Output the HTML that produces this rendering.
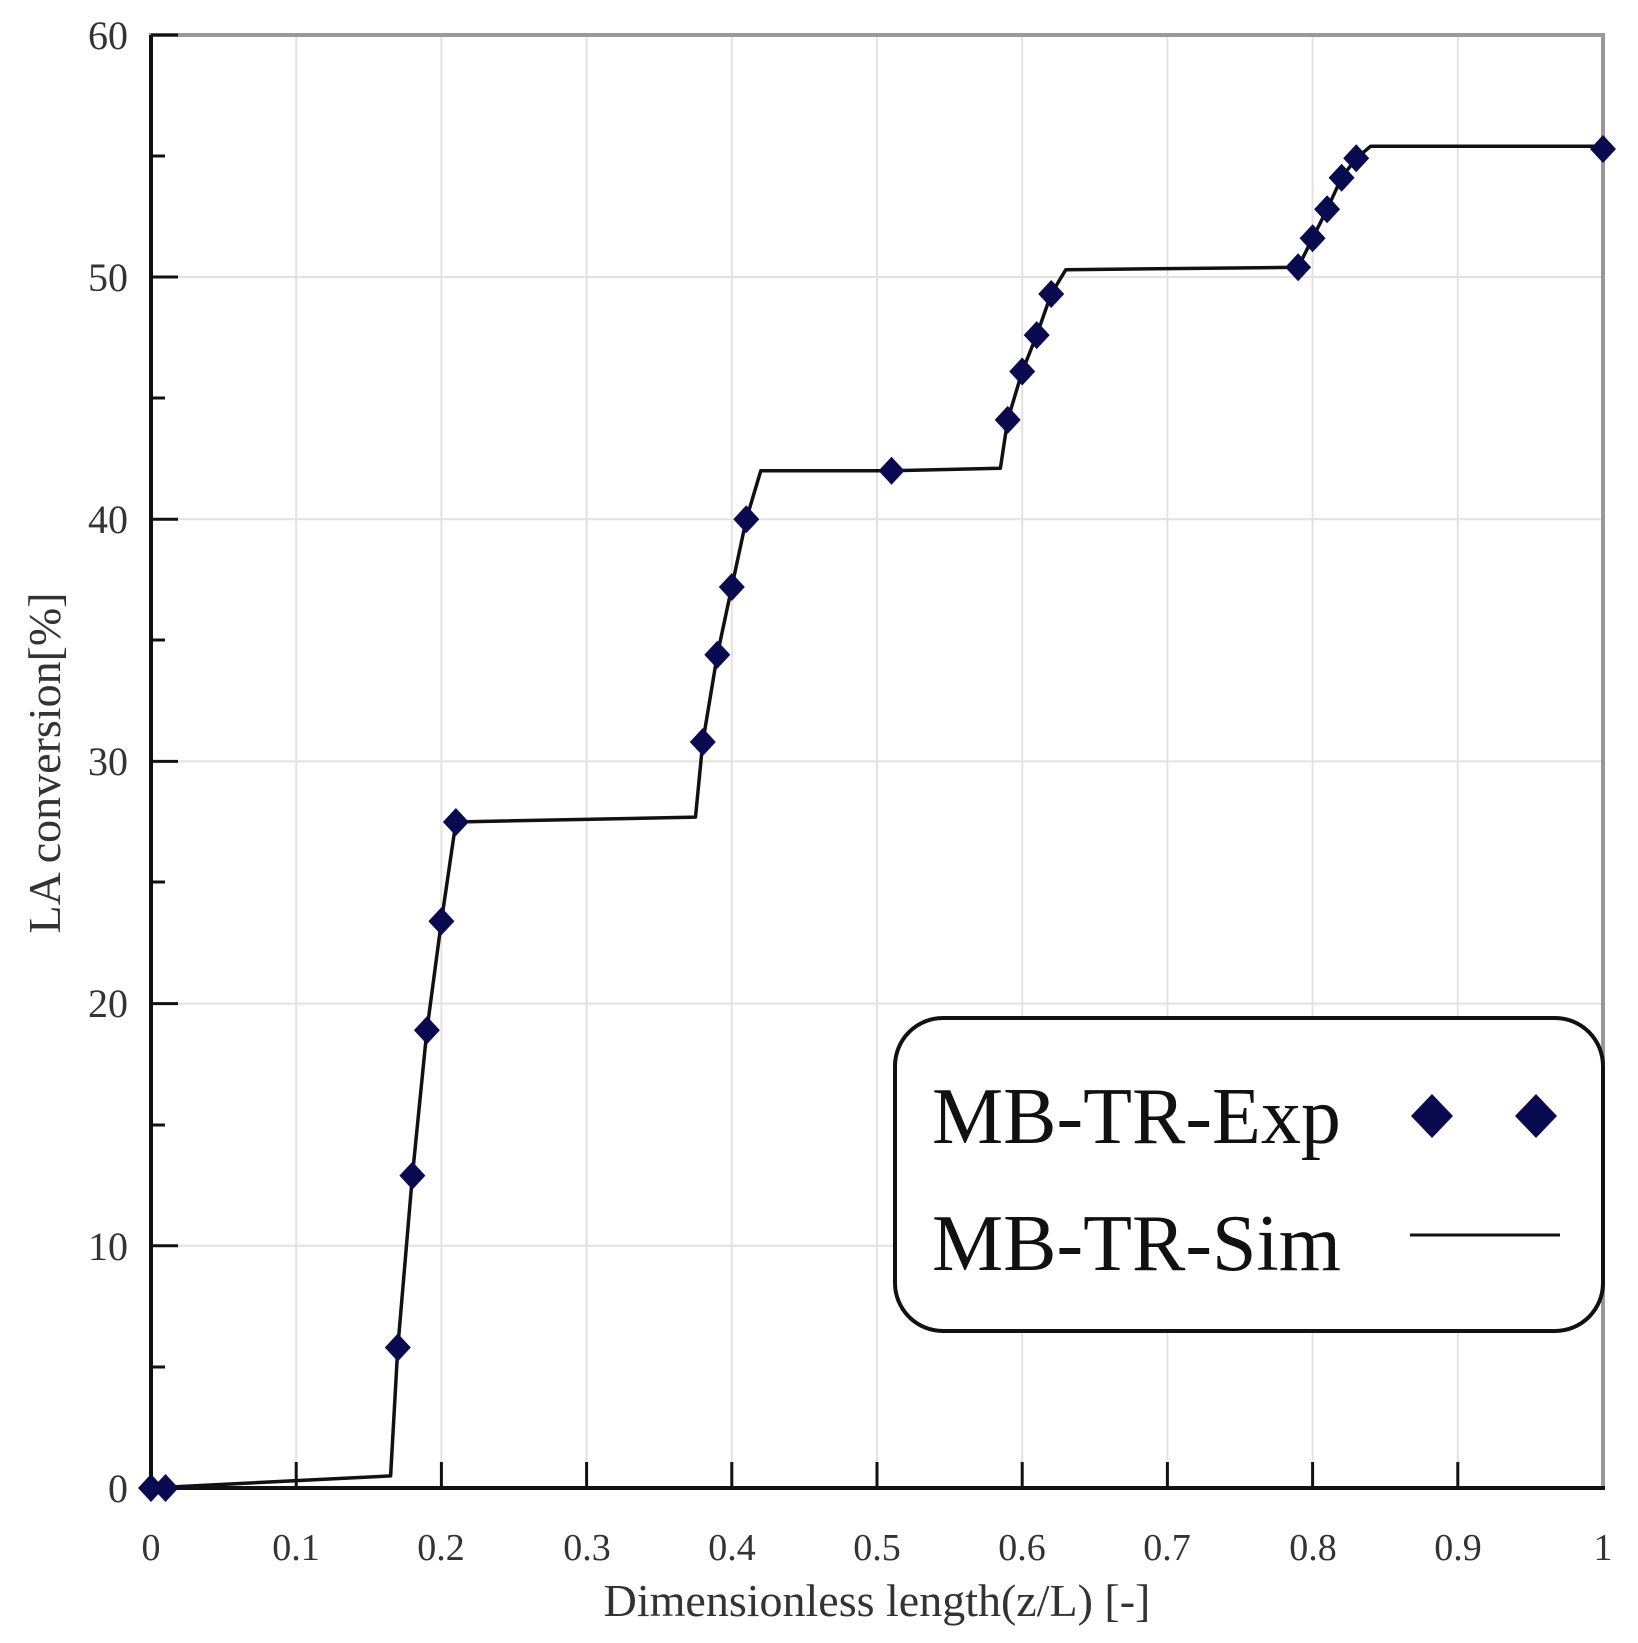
<!DOCTYPE html>
<html><head><meta charset="utf-8"><style>
html,body{margin:0;padding:0;background:#fff}
svg{display:block}
text{font-family:"Liberation Serif",serif;fill:#333}
</style></head><body>
<svg width="1638" height="1643" viewBox="0 0 1638 1643" xmlns="http://www.w3.org/2000/svg">
<g stroke="#e2e2e2" stroke-width="2">
<line x1="296.2" y1="35" x2="296.2" y2="1488"/><line x1="441.4" y1="35" x2="441.4" y2="1488"/>
<line x1="586.6" y1="35" x2="586.6" y2="1488"/><line x1="731.8" y1="35" x2="731.8" y2="1488"/>
<line x1="877" y1="35" x2="877" y2="1488"/><line x1="1022.2" y1="35" x2="1022.2" y2="1488"/>
<line x1="1167.4" y1="35" x2="1167.4" y2="1488"/><line x1="1312.6" y1="35" x2="1312.6" y2="1488"/>
<line x1="1457.8" y1="35" x2="1457.8" y2="1488"/>
<line x1="151" y1="1245.8" x2="1603" y2="1245.8"/><line x1="151" y1="1003.6" x2="1603" y2="1003.6"/>
<line x1="151" y1="761.4" x2="1603" y2="761.4"/><line x1="151" y1="519.2" x2="1603" y2="519.2"/>
<line x1="151" y1="277" x2="1603" y2="277"/>
</g>
<rect x="151" y="35" width="1452" height="1453" fill="none" stroke="#999" stroke-width="4"/>
<line x1="151" y1="35" x2="151" y2="1490" stroke="#111" stroke-width="4"/>
<line x1="149" y1="1488" x2="1605" y2="1488" stroke="#111" stroke-width="4"/>
<g stroke="#111" stroke-width="3">
<line x1="151" y1="35" x2="178" y2="35"/><line x1="151" y1="277" x2="178" y2="277"/>
<line x1="151" y1="519.2" x2="178" y2="519.2"/><line x1="151" y1="761.4" x2="178" y2="761.4"/>
<line x1="151" y1="1003.6" x2="178" y2="1003.6"/><line x1="151" y1="1245.8" x2="178" y2="1245.8"/>
<line x1="151" y1="156" x2="165" y2="156"/><line x1="151" y1="398" x2="165" y2="398"/>
<line x1="151" y1="640" x2="165" y2="640"/><line x1="151" y1="882" x2="165" y2="882"/>
<line x1="151" y1="1125" x2="165" y2="1125"/><line x1="151" y1="1367" x2="165" y2="1367"/>
<line x1="296.2" y1="1462" x2="296.2" y2="1488"/><line x1="441.4" y1="1462" x2="441.4" y2="1488"/>
<line x1="586.6" y1="1462" x2="586.6" y2="1488"/><line x1="731.8" y1="1462" x2="731.8" y2="1488"/>
<line x1="877" y1="1462" x2="877" y2="1488"/><line x1="1022.2" y1="1462" x2="1022.2" y2="1488"/>
<line x1="1167.4" y1="1462" x2="1167.4" y2="1488"/><line x1="1312.6" y1="1462" x2="1312.6" y2="1488"/>
<line x1="1457.8" y1="1462" x2="1457.8" y2="1488"/>
</g>
<g font-size="40" text-anchor="end">
<text x="128" y="49">60</text><text x="128" y="291">50</text><text x="128" y="533">40</text>
<text x="128" y="775">30</text><text x="128" y="1017">20</text><text x="128" y="1260">10</text>
<text x="128" y="1502">0</text>
</g>
<g font-size="38" text-anchor="middle">
<text x="151" y="1560">0</text><text x="296" y="1560">0.1</text><text x="441" y="1560">0.2</text>
<text x="587" y="1560">0.3</text><text x="732" y="1560">0.4</text><text x="877" y="1560">0.5</text>
<text x="1022" y="1560">0.6</text><text x="1167" y="1560">0.7</text><text x="1313" y="1560">0.8</text>
<text x="1458" y="1560">0.9</text><text x="1603" y="1560">1</text>
</g>
<text x="877" y="1616" font-size="46" text-anchor="middle">Dimensionless length(z/L) [-]</text>
<text transform="translate(60,763) rotate(-90)" font-size="46" text-anchor="middle">LA conversion[%]</text>
<polyline fill="none" stroke="#111" stroke-width="3.5" stroke-linejoin="round" points="151,1488 390.6,1475.9 397.8,1347.5 412.4,1175.6 426.9,1030.2 441.4,921.3 455.9,822 695.5,817.1 702.8,742 717.3,654.8 731.8,587 746.3,519.2 760.8,470.8 891.5,470.8 1000.4,468.3 1007.7,419.9 1022.2,371.5 1036.7,335.1 1051.2,294 1065.8,269.7 1298.1,267.3 1312.6,238.2 1327.1,209.2 1341.6,177.7 1356.2,158.3 1370.7,146.2 1603,146.2"/>
<defs><path id="d" d="M0,-14 L13,0 L0,14 L-13,0 Z" fill="#0a0a50"/></defs>
<use href="#d" x="151" y="1488"/><use href="#d" x="165.5" y="1488"/>
<use href="#d" x="397.8" y="1347.5"/><use href="#d" x="412.4" y="1175.6"/><use href="#d" x="426.9" y="1030.2"/>
<use href="#d" x="441.4" y="921.3"/><use href="#d" x="455.9" y="822"/>
<use href="#d" x="702.8" y="742"/><use href="#d" x="717.3" y="654.8"/><use href="#d" x="731.8" y="587"/>
<use href="#d" x="746.3" y="519.2"/><use href="#d" x="891.5" y="470.8"/>
<use href="#d" x="1007.7" y="419.9"/><use href="#d" x="1022.2" y="371.5"/><use href="#d" x="1036.7" y="335.1"/>
<use href="#d" x="1051.2" y="294"/><use href="#d" x="1298.1" y="267.3"/><use href="#d" x="1312.6" y="238.2"/>
<use href="#d" x="1327.1" y="209.2"/><use href="#d" x="1341.6" y="177.7"/><use href="#d" x="1356.2" y="158.3"/>
<use href="#d" x="1603" y="149"/>
<rect x="895" y="1018" width="708" height="313" rx="48" ry="48" fill="#fff" stroke="#111" stroke-width="4"/>
<text x="932" y="1143" font-size="80" style="fill:#111">MB-TR-Exp</text>
<text x="932" y="1270" font-size="80" style="fill:#111">MB-TR-Sim</text>
<path d="M1432,1094 L1453,1116 L1432,1138 L1411,1116 Z" fill="#0a0a50"/>
<path d="M1536,1094 L1557,1116 L1536,1138 L1515,1116 Z" fill="#0a0a50"/>
<line x1="1410" y1="1235" x2="1560" y2="1235" stroke="#111" stroke-width="3"/>
</svg>
</body></html>
